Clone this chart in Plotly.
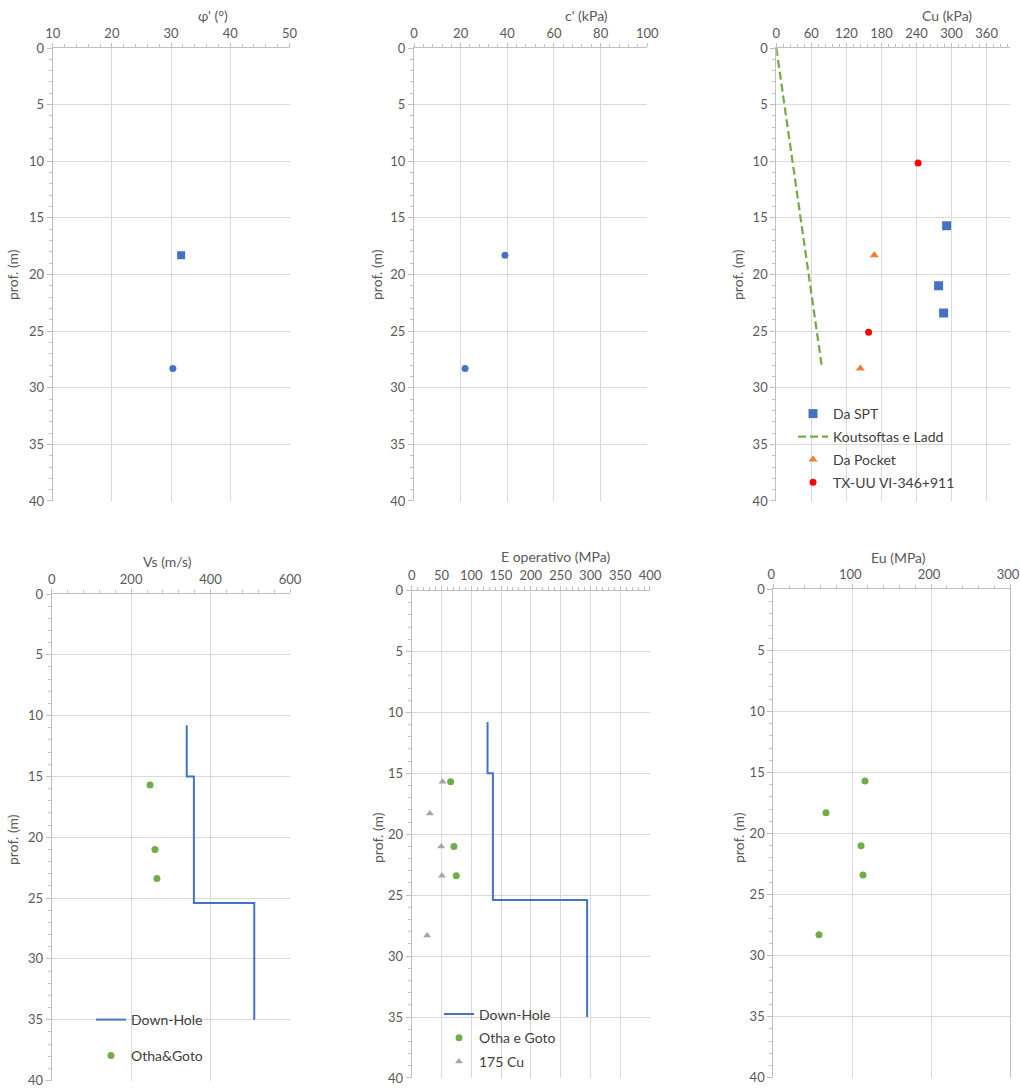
import plotly.graph_objects as go

W, H = 1020, 1088
BLUE = '#4472C4'; GREEN = '#70AD47'; ORANGE = '#ED7D31'; RED = '#FF0000'; GRAY = '#A5A5A5'
FONT = 'Lato'
TXT = '#595959'
LEG = '#404040'
GRID = '#D9D9D9'
AXL = '#BFBFBF'

# ---------------- data ----------------
phi_spt_depth = [18.3]; phi_spt = [31.7]
phi_lab_depth = [28.3]; phi_lab = [30.3]
c_depth = [18.3, 28.3]; c_val = [39.0, 21.9]

cu_spt_depth = [15.7, 21.0, 23.4]; cu_spt = [291.5, 277.8, 286.4]
cu_kl_depth = [0.0, 28.3]; cu_kl = [0.0, 78.4]
cu_pocket_depth = [18.3, 28.3]; cu_pocket = [167.7, 143.9]
cu_tx_depth = [10.15, 25.1]; cu_tx = [242.7, 158.0]

dh_bounds = [10.8, 15.0, 25.4, 35.0]
vs_dh = [340, 358, 510]
vs_og_depth = [15.7, 21.0, 23.4]; vs_og = [247.6, 260.0, 265.0]

e_dh = [127.3, 136.3, 294.5]
e_og_depth = [15.7, 21.0, 23.4]; e_og = [65.3, 70.9, 74.8]
e_cu_depth = [15.7, 18.3, 21.0, 23.4, 28.3]; e_cu = [51.8, 30.5, 49.5, 50.7, 26.0]

eu_depth = [15.7, 18.3, 21.0, 23.4, 28.3]; eu = [116.2, 66.8, 111.2, 113.7, 57.9]


def steps(bounds, vals):
    xs, ys = [], []
    for i, v in enumerate(vals):
        xs += [v, v]
        ys += [bounds[i], bounds[i + 1]]
    return xs, ys


fig = go.Figure()

# panel 1
fig.add_trace(go.Scatter(x=phi_spt, y=phi_spt_depth, mode='markers', xaxis='x', yaxis='y',
                         marker=dict(symbol='square', size=8, color=BLUE), showlegend=False))
fig.add_trace(go.Scatter(x=phi_lab, y=phi_lab_depth, mode='markers', xaxis='x', yaxis='y',
                         marker=dict(symbol='circle', size=7, color=BLUE), showlegend=False))
# panel 2
fig.add_trace(go.Scatter(x=c_val, y=c_depth, mode='markers', xaxis='x2', yaxis='y2',
                         marker=dict(symbol='circle', size=7, color=BLUE), showlegend=False))
# panel 3
fig.add_trace(go.Scatter(x=cu_spt, y=cu_spt_depth, mode='markers', xaxis='x3', yaxis='y3',
                         name='Da SPT', legend='legend', legendgroup='a',
                         marker=dict(symbol='square', size=9, color=BLUE)))
fig.add_trace(go.Scatter(x=cu_kl, y=cu_kl_depth, mode='lines', xaxis='x3', yaxis='y3',
                         name='Koutsoftas e Ladd', legend='legend', legendgroup='b',
                         line=dict(color=GREEN, width=2.25, dash='8px,4px')))
fig.add_trace(go.Scatter(x=cu_pocket, y=cu_pocket_depth, mode='markers', xaxis='x3', yaxis='y3',
                         name='Da Pocket', legend='legend', legendgroup='c',
                         marker=dict(symbol='triangle-up', size=8, color=ORANGE)))
fig.add_trace(go.Scatter(x=cu_tx, y=cu_tx_depth, mode='markers', xaxis='x3', yaxis='y3',
                         name='TX-UU VI-346+911', legend='legend', legendgroup='d',
                         marker=dict(symbol='circle', size=7, color=RED)))
# panel 4
vx, vy = steps(dh_bounds, vs_dh)
fig.add_trace(go.Scatter(x=vx, y=vy, mode='lines', xaxis='x4', yaxis='y4',
                         name='Down-Hole', legend='legend2', legendgroup='e',
                         line=dict(color=BLUE, width=2)))
fig.add_trace(go.Scatter(x=vs_og, y=vs_og_depth, mode='markers', xaxis='x4', yaxis='y4',
                         name='Otha&Goto', legend='legend2', legendgroup='f',
                         marker=dict(symbol='circle', size=7, color=GREEN)))
# panel 5
ex, ey = steps(dh_bounds, e_dh)
fig.add_trace(go.Scatter(x=ex, y=ey, mode='lines', xaxis='x5', yaxis='y5',
                         name='Down-Hole', legend='legend3', legendgroup='g',
                         line=dict(color=BLUE, width=2)))
fig.add_trace(go.Scatter(x=e_og, y=e_og_depth, mode='markers', xaxis='x5', yaxis='y5',
                         name='Otha e Goto', legend='legend3', legendgroup='h',
                         marker=dict(symbol='circle', size=7, color=GREEN)))
fig.add_trace(go.Scatter(x=e_cu, y=e_cu_depth, mode='markers', xaxis='x5', yaxis='y5',
                         name='175 Cu', legend='legend3', legendgroup='i',
                         marker=dict(symbol='triangle-up', size=7, color=GRAY)))
# panel 6
fig.add_trace(go.Scatter(x=eu, y=eu_depth, mode='markers', xaxis='x6', yaxis='y6',
                         marker=dict(symbol='circle', size=7, color=GREEN), showlegend=False))


def xd(a, b):
    return [a / W, b / W]


def yd(top, bot):
    return [1 - bot / H, 1 - top / H]


tickfont = dict(family=FONT, size=13, color=TXT)


def xax(dom, rng, dtick, minor, anchor, shift=0):
    return dict(domain=dom, range=rng, side='top', dtick=dtick, tick0=0, showgrid=True,
                gridcolor=GRID, gridwidth=1, showline=True, linecolor=AXL, linewidth=1,
                ticks='outside', ticklen=4, tickcolor=AXL, automargin=False,
                ticklabeloverflow='allow', ticklabelshift=shift,
                minor=dict(dtick=minor, tick0=0, ticks='outside', ticklen=3, tickcolor=AXL, showgrid=False),
                tickfont=tickfont, zeroline=False, anchor=anchor, fixedrange=True)


def yax(dom, anchor, mirror=False):
    return dict(domain=dom, range=[40.001, 0], dtick=5, tick0=0, showgrid=True, gridcolor=GRID,
                gridwidth=1, showline=True, linecolor=AXL, linewidth=1, automargin=False,
                mirror=mirror,
                ticks='outside', ticklen=5, tickcolor=AXL, ticklabeloverflow='allow',
                minor=dict(dtick=1, tick0=0, ticks='outside', ticklen=3, tickcolor=AXL, showgrid=False),
                tickfont=tickfont, zeroline=False, anchor=anchor, fixedrange=True)


top = yd(48, 501)
layout = dict(
    width=W, height=H, autosize=False, template='none',
    margin=dict(l=0, r=0, t=0, b=0, pad=0),
    paper_bgcolor='white', plot_bgcolor='white',
    font=dict(family=FONT, color=TXT),
    xaxis=xax(xd(52.7, 289.5), [10, 50.001], 10, 2, 'y'),
    yaxis=yax(top, 'x'),
    xaxis2=xax(xd(414, 647.3), [0, 100.001], 20, 4, 'y2'),
    yaxis2=yax(top, 'x2'),
    xaxis3=xax(xd(776.3, 1010), [0, 400], 60, 12, 'y3'),
    yaxis3=yax(top, 'x3'),
    xaxis4=xax(xd(51.7, 290), [0, 600.01], 200, 40, 'y4'),
    yaxis4=yax(yd(594, 1080.5), 'x4'),
    xaxis5=xax(xd(411.7, 650), [0, 400.01], 50, 10, 'y5'),
    yaxis5=yax(yd(590.5, 1078), 'x5'),
    xaxis6=xax(xd(773.3, 1010), [0, 300], 100, 20, 'y6', shift=-2),
    yaxis6=yax(yd(589.3, 1077.7), 'x6', mirror=True),
    legend=dict(x=793 / W, y=1 - 398 / H, xanchor='left', yanchor='top', bgcolor='rgba(0,0,0,0)',
                borderwidth=0,
                font=dict(family=FONT, size=14, color=LEG), traceorder='grouped', tracegroupgap=1.7),
    legend2=dict(x=91 / W, y=1 - 1004 / H, xanchor='left', yanchor='top', bgcolor='rgba(0,0,0,0)',
                 borderwidth=0,
                 font=dict(family=FONT, size=14, color=LEG), traceorder='grouped', tracegroupgap=14.8),
    legend3=dict(x=439 / W, y=1 - 998.5 / H, xanchor='left', yanchor='top', bgcolor='rgba(0,0,0,0)',
                 borderwidth=0,
                 font=dict(family=FONT, size=14, color=LEG), traceorder='grouped', tracegroupgap=2.5),
)
fig.update_layout(**layout)

titles = [
    ("φ' (°)", 213, 15, 0), ("c' (kPa)", 586, 15, 0), ("Cu (kPa)", 947, 15, 0),
    ("Vs (m/s)", 167, 561, 0), ("E operativo (MPa)", 556, 556, 0), ("Eu (MPa)", 898, 557, 0),
    ("prof. (m)", 13, 275, -90), ("prof. (m)", 377, 275, -90), ("prof. (m)", 738, 275, -90),
    ("prof. (m)", 12, 840, -90), ("prof. (m)", 377, 838, -90), ("prof. (m)", 738, 838, -90),
]
for t, px, py, ang in titles:
    fig.add_annotation(text=t, x=px / W, y=1 - py / H, xref='paper', yref='paper',
                       xanchor='center', yanchor='middle', showarrow=False, textangle=ang,
                       font=dict(family=FONT, size=14, color=TXT))

fig.write_html("out.html")
